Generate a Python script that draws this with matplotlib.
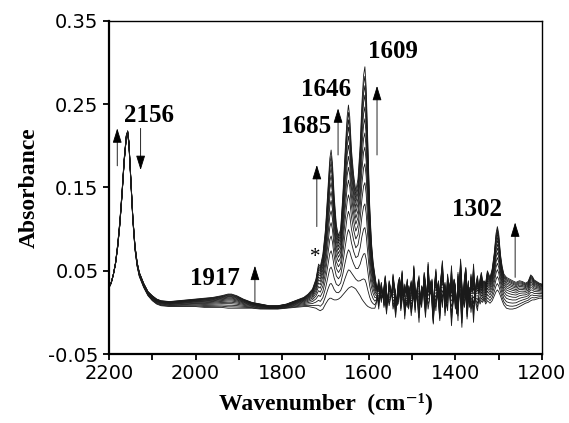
#import libraries
import numpy as np
import matplotlib
matplotlib.use('Agg')
import matplotlib.pyplot as plt

plt.rcParams['axes.unicode_minus'] = False

#smooth part of the spectra, 2200 -> 1586 cm-1
wn_smooth = [2200, 2195, 2190, 2185, 2180, 2175, 2170, 2165, 2160, 2157, 2154, 2150,
             2145, 2140, 2135, 2130, 2120, 2110, 2100, 2090, 2080, 2060, 2040, 2020,
             2000, 1980, 1960, 1940, 1925, 1917, 1905, 1890, 1870, 1850, 1830, 1810,
             1790, 1770, 1750, 1740, 1730, 1722, 1716, 1712, 1706, 1700, 1694, 1690,
             1687, 1684, 1680, 1675, 1670, 1665, 1660, 1655, 1650, 1647, 1644, 1640,
             1635, 1630, 1625, 1620, 1616, 1612, 1609, 1606, 1602, 1598, 1594, 1590, 1586]

#last (top) spectrum
top_smooth = [0.030, 0.035, 0.045, 0.058, 0.078, 0.105, 0.140, 0.180, 0.210, 0.218, 0.205, 0.165,
              0.115, 0.080, 0.060, 0.048, 0.035, 0.025, 0.020, 0.016, 0.014, 0.013, 0.014, 0.015,
              0.016, 0.017, 0.018, 0.020, 0.022, 0.022, 0.020, 0.016, 0.012, 0.010, 0.008, 0.008,
              0.010, 0.014, 0.018, 0.022, 0.028, 0.040, 0.058, 0.055, 0.070, 0.100, 0.150, 0.185,
              0.195, 0.180, 0.140, 0.105, 0.092, 0.100, 0.140, 0.190, 0.235, 0.249, 0.235, 0.195,
              0.165, 0.146, 0.160, 0.200, 0.250, 0.285, 0.295, 0.270, 0.200, 0.130, 0.085, 0.060, 0.045]

#first (bottom) spectrum
bot_smooth = [0.030, 0.036, 0.046, 0.060, 0.082, 0.110, 0.145, 0.185, 0.213, 0.215, 0.200, 0.160,
              0.110, 0.075, 0.055, 0.043, 0.030, 0.020, 0.014, 0.010, 0.008, 0.007, 0.007, 0.007,
              0.007, 0.006, 0.006, 0.006, 0.005, 0.005, 0.005, 0.005, 0.005, 0.004, 0.004, 0.004,
              0.005, 0.006, 0.007, 0.007, 0.006, 0.005, 0.003, 0.002, 0.004, 0.010, 0.015, 0.017,
              0.017, 0.016, 0.015, 0.015, 0.016, 0.018, 0.021, 0.024, 0.027, 0.029, 0.030, 0.031,
              0.030, 0.028, 0.024, 0.020, 0.016, 0.013, 0.011, 0.009, 0.007, 0.006, 0.005, 0.005, 0.005]

#noisy part, 1583 -> 1334 cm-1 every 3 cm-1
wn_noise = list(range(1583, 1333, -3))

noise_top = [0.034, 0.028, 0.040, 0.022, 0.036, 0.018, 0.030, 0.044, 0.026, 0.012, 0.038, 0.030,
             0.020, 0.046, 0.032, 0.024, 0.008, 0.036, 0.042, 0.028, 0.050, 0.016, 0.034, 0.026,
             0.040, 0.004, 0.030, 0.038, 0.022, 0.056, 0.028, 0.018, 0.036, 0.044, 0.010, 0.032,
             0.024, 0.048, 0.036, 0.014, 0.060, 0.030, 0.022, 0.040, 0.002, 0.034, 0.052, 0.026,
             0.038, 0.018, 0.044, 0.062, 0.028, 0.036, 0.012, 0.046, 0.030, 0.024, 0.056, 0.020,
             0.040, 0.032, -0.002, 0.048, 0.026, 0.064, 0.034, 0.016, 0.042, 0.054, 0.022, 0.038,
             0.006, 0.046, 0.030, 0.058, 0.020, 0.036, 0.044, 0.028, 0.040, 0.048, 0.036, 0.038]

noise_bot = [0.010, 0.018, 0.004, 0.022, 0.012, 0.026, 0.006, 0.014, -0.002, 0.020, 0.008, 0.016,
             0.024, 0.004, 0.012, -0.006, 0.018, 0.010, 0.028, 0.002, 0.014, 0.020, -0.008, 0.012,
             0.006, 0.032, 0.016, -0.004, 0.010, 0.022, 0.000, 0.026, 0.008, -0.012, 0.018, 0.006,
             0.030, 0.012, -0.006, 0.020, 0.004, 0.014, 0.038, 0.008, -0.014, 0.016, 0.002, 0.024,
             0.010, -0.010, 0.020, 0.006, 0.030, -0.004, 0.012, 0.002, 0.036, 0.014, -0.016, 0.008,
             0.022, 0.004, 0.018, -0.010, 0.028, 0.010, -0.018, 0.016, 0.006, 0.024, -0.008, 0.012,
             0.030, 0.000, 0.014, -0.012, 0.020, 0.008, 0.002, 0.016, 0.010, 0.014, 0.012, 0.016]

#1302 region, 1330 -> 1200 cm-1
wn_tail = [1330, 1326, 1320, 1315, 1310, 1306, 1303, 1300, 1296, 1292, 1288, 1282, 1275,
           1268, 1260, 1252, 1245, 1238, 1232, 1226, 1222, 1218, 1212, 1206, 1200]
top_tail = [0.035, 0.050, 0.042, 0.052, 0.072, 0.095, 0.103, 0.095, 0.070, 0.055, 0.046, 0.042, 0.040,
            0.038, 0.036, 0.038, 0.037, 0.035, 0.037, 0.045, 0.043, 0.039, 0.037, 0.035, 0.034]
bot_tail = [0.010, 0.014, 0.011, 0.014, 0.020, 0.025, 0.027, 0.025, 0.020, 0.014, 0.009, 0.005, 0.004,
            0.004, 0.005, 0.007, 0.009, 0.011, 0.012, 0.014, 0.015, 0.015, 0.016, 0.017, 0.017]

#how far each recorded spectrum has grown from first to last
fractions = [0.0, 0.10, 0.21, 0.32, 0.42, 0.51, 0.59, 0.66, 0.72, 0.78, 0.83, 0.88, 0.92, 0.96, 1.0]

#peak labels (text, x, y)
peak_labels = [('2156', 2108, 0.237), ('1917', 1955, 0.041), ('1685', 1745, 0.223),
               ('1646', 1699, 0.268), ('1609', 1544, 0.313), ('1302', 1350, 0.123)]
#arrows (x, y_start, y_end)
arrows = [(2181, 0.176, 0.221), (2127, 0.221, 0.171), (1863, 0.012, 0.056),
          (1720, 0.103, 0.177), (1671, 0.189, 0.245), (1581, 0.189, 0.272),
          (1262, 0.042, 0.108)]

#join the pieces
wn = np.array(wn_smooth + wn_noise + wn_tail, dtype=float)
top = np.array(top_smooth + noise_top + top_tail)
bot = np.array(bot_smooth + noise_bot + bot_tail)

fig = plt.figure(figsize=(5.69, 4.23), dpi=100)
ax = fig.add_axes([0.1916, 0.1631, 0.7609, 0.7873])

#draw spectra
for f in fractions:
    ax.plot(wn, bot + f * (top - bot), color='0.1', lw=0.6)

#annotations
for txt, x, y in peak_labels:
    ax.text(x, y, txt, ha='center', va='center', fontsize=18, fontweight='bold',
            family='Liberation Serif')
ax.text(1724, 0.066, '*', ha='center', va='center', fontsize=15, family='Liberation Serif')

for x, y0, y1 in arrows:
    ax.annotate('', xy=(x, y1), xytext=(x, y0),
                arrowprops=dict(arrowstyle='-|>,head_length=0.9,head_width=0.28',
                                color='black', lw=0.6, shrinkA=0, shrinkB=0))

#axes setup
ax.set_xlim(2200, 1200)
ax.set_ylim(-0.05, 0.35)
ax.set_xticks([2200, 2000, 1800, 1600, 1400, 1200])
ax.set_xticks([2100, 1900, 1700, 1500, 1300], minor=True)
ax.set_yticks([-0.05, 0.05, 0.15, 0.25, 0.35])
ax.set_yticklabels(['-0.05', '0.05', '0.15', '0.25', '0.35'])
ax.tick_params(which='both', direction='out', length=4, width=1.3, labelsize=14)
for lab in ax.get_xticklabels() + ax.get_yticklabels():
    lab.set_family('DejaVu Sans')

ax.spines['left'].set_linewidth(1.6)
ax.spines['bottom'].set_linewidth(1.6)
ax.spines['top'].set_linewidth(1.0)
ax.spines['right'].set_linewidth(1.0)

ax.set_ylabel('Absorbance', fontsize=17, fontweight='bold',
              family=['Liberation Serif', 'DejaVu Serif'], labelpad=6)
ax.set_xlabel('Wavenumber  (cm\u207b\u00b9)', fontsize=17, fontweight='bold',
              family=['Liberation Serif', 'DejaVu Serif'], labelpad=6)

fig.savefig('out.png', dpi=100)
